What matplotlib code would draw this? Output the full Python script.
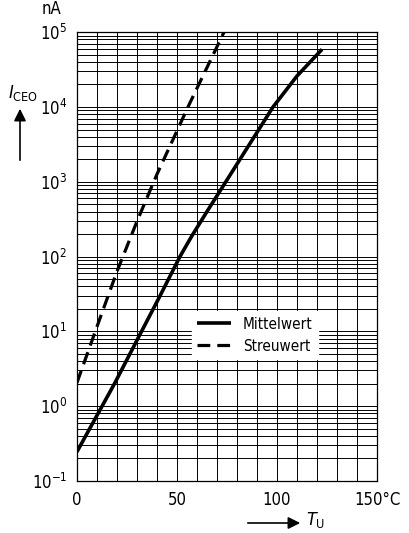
import numpy as np
import matplotlib.pyplot as plt
from matplotlib.ticker import LogLocator, FixedLocator, NullFormatter

plt.rcParams['font.family'] = ['DejaVu Sans']
plt.rcParams['font.stretch'] = 'condensed'
plt.rcParams['mathtext.default'] = 'regular'

# Mittelwert (mean) curve
T_mittel = [0, 19, 30, 41, 51.5, 57.5, 65, 72.5, 86, 98, 110, 122.5]
I_mittel = [0.245, 2.05, 7.6, 28, 100, 190, 400, 830, 3100, 1e4, 2.6e4, 5.9e4]

# Streuwert (spread) curve
T_streu = [0, 10, 20, 30, 40, 55.5, 73.5]
I_streu = [2.05, 11.5, 63, 295, 1260, 1e4, 1e5]

x_ticks = [0, 50, 100, 150]
x_labels = ['0', '50', '100', '150°C']
y_ticks = [1e-1, 1e0, 1e1, 1e2, 1e3, 1e4, 1e5]
y_labels = [r'$10^{-1}$', r'$10^{0}$', r'$10^{1}$', r'$10^{2}$',
            r'$10^{3}$', r'$10^{4}$', r'$10^{5}$']

fig = plt.figure(figsize=(4.09, 5.33), dpi=100)
ax = fig.add_axes([0.188, 0.0976, 0.734, 0.842])

ax.set_yscale('log')
ax.set_xlim(0, 150)
ax.set_ylim(1e-1, 1e5)

ax.plot(T_mittel, I_mittel, color='black', lw=2.6, solid_capstyle='butt',
        solid_joinstyle='round', label='Mittelwert')
ax.plot(T_streu, I_streu, color='black', lw=2.3, dashes=(4, 2.2),
        label='Streuwert')

# grid: every 10 degC, log minors
ax.xaxis.set_major_locator(FixedLocator(x_ticks))
ax.xaxis.set_minor_locator(FixedLocator(np.arange(0, 151, 10)))
ax.set_xticklabels(x_labels)
ax.yaxis.set_major_locator(FixedLocator(y_ticks))
ax.yaxis.set_minor_locator(LogLocator(base=10, subs=np.arange(2, 10), numticks=20))
ax.yaxis.set_minor_formatter(NullFormatter())
ax.set_yticklabels(y_labels)
ax.grid(True, which='both', color='black', lw=0.7)
ax.set_axisbelow(True)
ax.tick_params(which='both', length=0, labelsize=12, pad=7)
for s in ax.spines.values():
    s.set_linewidth(0.9)

leg = ax.legend(loc='upper left', bbox_to_anchor=(0.383, 0.378), frameon=True,
                fancybox=False, edgecolor='white', framealpha=1,
                fontsize=11, handlelength=2.2, handletextpad=0.8,
                labelspacing=0.45, borderpad=0.35, borderaxespad=0)

# axis labels with arrows
fig.text(42 / 409, 1 - 9 / 533, 'nA', fontsize=12, ha='left', va='center')
fig.text(8 / 409, 1 - 93 / 533, r'$\mathit{I}_{CEO}$', fontsize=13,
         ha='left', va='center')
ax.annotate('', xy=(20 / 409, 1 - 106 / 533), xytext=(20 / 409, 1 - 163 / 533),
            xycoords='figure fraction', textcoords='figure fraction',
            arrowprops=dict(arrowstyle='-|>', color='black', lw=1.2,
                            mutation_scale=18), annotation_clip=False)
ax.annotate('', xy=(303 / 409, 1 - 523 / 533), xytext=(245 / 409, 1 - 523 / 533),
            xycoords='figure fraction', textcoords='figure fraction',
            arrowprops=dict(arrowstyle='-|>', color='black', lw=1.2,
                            mutation_scale=18), annotation_clip=False)
fig.text(306 / 409, 1 - 520 / 533, r'$\mathit{T}_{U}$', fontsize=13,
         ha='left', va='center')

fig.savefig('out.png', dpi=100)
